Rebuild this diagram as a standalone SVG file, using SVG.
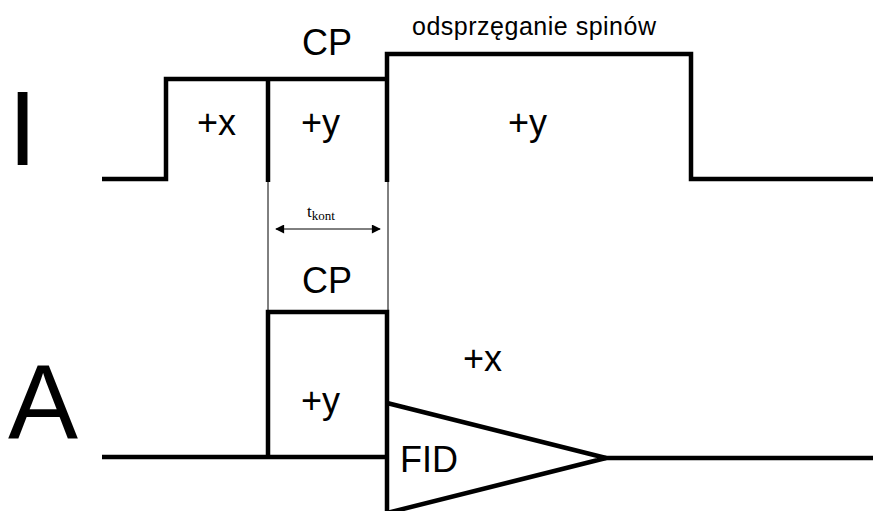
<svg xmlns="http://www.w3.org/2000/svg" width="873" height="511" viewBox="0 0 873 511">
<style>
.w{fill:none;stroke:#000;stroke-width:4.5;stroke-linejoin:miter;stroke-linecap:butt}
.t{fill:none;stroke:#000;stroke-width:1}
.lbl{font-family:"Liberation Sans",Arial,sans-serif;font-size:36px;fill:#000}
.big{font-family:"Liberation Sans",Arial,sans-serif;font-size:105px;fill:#000}
.sm{font-family:"Liberation Sans",Arial,sans-serif;font-size:25px;fill:#000}
.ser{font-family:"Liberation Serif","Times New Roman",serif;fill:#000}
</style>
<defs>
<marker id="ah" viewBox="0 0 10 10" refX="9" refY="5" markerWidth="11" markerHeight="9" markerUnits="userSpaceOnUse" orient="auto-start-reverse">
<path d="M0,0 L10,5 L0,10 z" fill="#000"/>
</marker>
</defs>
<rect width="873" height="511" fill="#fff"/>
<g id="channel-I">
<text class="big" x="8" y="165">I</text>
<path class="w" d="M102,179 H166 V79 H387"/>
<path class="w" d="M268,79 V182"/>
<path class="w" d="M387,182 V54 H691 V179 H873"/>
<text class="lbl" x="197" y="135">+x</text>
<text class="lbl" x="301" y="135">+y</text>
<text class="lbl" x="508" y="135">+y</text>
<text class="lbl" x="327" y="55" text-anchor="middle">CP</text>
<text class="sm" x="412" y="35" textLength="244">odsprzęganie spinów</text>
</g>
<g id="contact-time">
<path class="t" d="M268,182 V312 M388,182 V312"/>
<line class="t" x1="276" y1="229" x2="380" y2="229" stroke-width="1.5" marker-start="url(#ah)" marker-end="url(#ah)"/>
<text class="ser" x="307" y="217" font-size="17">t<tspan font-size="13" dy="3">kont</tspan></text>
</g>
<g id="channel-A">
<text class="big" x="8" y="438">A</text>
<path class="w" d="M102,457 H387"/>
<path class="w" d="M268,457 V312 H387 V511"/>
<text class="lbl" x="327" y="293" text-anchor="middle">CP</text>
<text class="lbl" x="301" y="413">+y</text>
<text class="lbl" x="463" y="371">+x</text>
</g>
<g id="fid">
<path class="w" d="M387,403 L606,458 L387,513"/>
<path class="w" d="M604,458 H873"/>
<text class="lbl" x="400" y="472">FID</text>
</g>
</svg>
